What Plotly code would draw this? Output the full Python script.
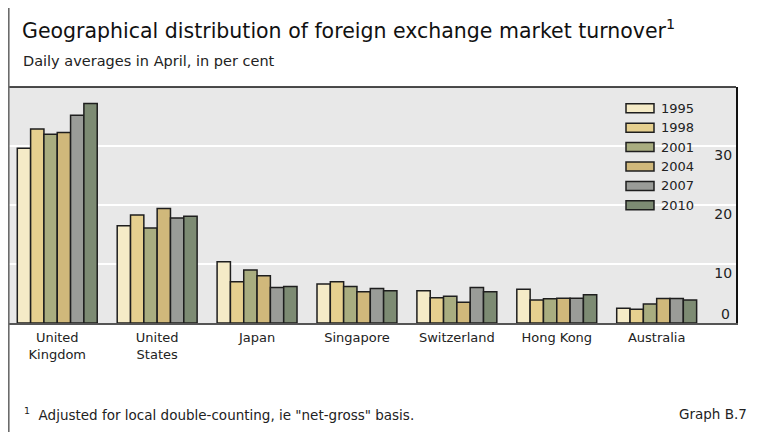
import plotly.graph_objects as go

# Countries (x categories) and turnover shares by survey year, in per cent
countries = ['United<br>Kingdom', 'United<br>States', 'Japan', 'Singapore',
             'Switzerland', 'Hong Kong', 'Australia']
years = ['1995', '1998', '2001', '2004', '2007', '2010']
share_1995 = [29.6, 16.5, 10.4, 6.6, 5.45, 5.7, 2.5]
share_1998 = [32.9, 18.3, 7.0, 7.0, 4.3, 3.9, 2.35]
share_2001 = [32.0, 16.1, 9.0, 6.2, 4.55, 4.1, 3.2]
share_2004 = [32.3, 19.4, 8.0, 5.3, 3.5, 4.2, 4.15]
share_2007 = [35.2, 17.8, 6.0, 5.85, 6.0, 4.2, 4.15]
share_2010 = [37.2, 18.1, 6.2, 5.45, 5.3, 4.8, 3.9]
y_ticks = [0, 10, 20, 30]

shares = [share_1995, share_1998, share_2001, share_2004, share_2007, share_2010]
colors = ['#F5EBC7', '#E6D08F', '#A9AD80', '#D0B87B', '#9A9C98', '#7D8B73']

FONT = 'DejaVu Sans, Arial, sans-serif'
# the page body adds an 8px margin, so the figure is drawn 8px smaller and
# every reference pixel position is shifted by OFF
OFF = 8
W, H = 773 - OFF, 432 - OFF
L, R, T, B = 9 - OFF, 37, 87 - OFF, 109  # plot area 9..736 x 87..323 on screen

fig = go.Figure()
for yr, vals, col in zip(years, shares, colors):
    fig.add_trace(go.Bar(name=yr, x=countries, y=vals,
                         marker=dict(color=col, line=dict(color='#1e1e1e', width=1.5)),
                         showlegend=False))

fig.update_layout(
    width=W, height=H,
    margin=dict(l=L, r=R, t=T, b=B, pad=0),
    paper_bgcolor='white', plot_bgcolor='#E8E8E8',
    barmode='group', bargap=0.2, bargroupgap=0,
    font=dict(family=FONT, color='#222'),
)
fig.update_xaxes(range=[-0.483, 6.794], showline=True, linecolor='#555', linewidth=1.5,
                 showgrid=False, ticks='', ticklabelstandoff=2,
                 tickfont=dict(size=13, color='#222'))
fig.update_yaxes(range=[0, 40], side='right', tickvals=y_ticks,
                 showgrid=True, gridcolor='white', gridwidth=1.5, zeroline=False,
                 showline=True, linecolor='#111', linewidth=1.5, ticks='',
                 ticklabelposition='inside', ticklabelstandoff=4, ticklabelshift=9,
                 tickfont=dict(size=14, color='#222'))

# plotly drops the inside "0" label at the very bottom, so put it back
fig.add_annotation(xref='paper', yref='y', x=1, y=y_ticks[0], text=str(y_ticks[0]),
                   showarrow=False, xanchor='right', yanchor='middle',
                   xshift=-4, yshift=9, font=dict(size=14, color='#222'))

# plot-area top border
fig.add_shape(type='line', xref='paper', yref='paper', x0=0, x1=1, y0=1, y1=1,
              line=dict(color='#111', width=1.5))

# helpers: screen pixel -> paper units
pw, ph = W - L - R, H - T - B
def px_x(p): return (p - OFF - L) / pw
def px_y(p): return (H - B - (p - OFF)) / ph

# outer frame line on the left
fig.add_shape(type='line', xref='paper', yref='paper', x0=px_x(8.6), x1=px_x(8.6),
              y0=px_y(OFF), y1=px_y(432), line=dict(color='#6b6b6b', width=2))

# legend drawn as boxes + labels
for i, (yr, col) in enumerate(zip(years, colors)):
    yc = 108.3 + i * 19.4
    fig.add_shape(type='rect', xref='paper', yref='paper',
                  x0=px_x(626), x1=px_x(654), y0=px_y(yc - 4.5), y1=px_y(yc + 4.5),
                  fillcolor=col, line=dict(color='#1e1e1e', width=1.5))
    fig.add_annotation(xref='paper', yref='paper', x=px_x(659), y=px_y(yc),
                       text=yr, showarrow=False, xanchor='left', yanchor='middle',
                       font=dict(size=13, color='#222'))

# titles and notes
fig.add_annotation(xref='paper', yref='paper', x=px_x(20), y=px_y(29),
                   text='Geographical distribution of foreign exchange market turnover<sup>1</sup>',
                   showarrow=False, xanchor='left', yanchor='middle',
                   font=dict(size=20.5, color='#111'))
fig.add_annotation(xref='paper', yref='paper', x=px_x(21), y=px_y(61),
                   text='Daily averages in April, in per cent',
                   showarrow=False, xanchor='left', yanchor='middle',
                   font=dict(size=14.5, color='#222'))
fig.add_annotation(xref='paper', yref='paper', x=px_x(22), y=px_y(414),
                   text='<sup>1</sup>  Adjusted for local double-counting, ie "net-gross" basis.',
                   showarrow=False, xanchor='left', yanchor='middle',
                   font=dict(size=13.5, color='#222'))
fig.add_annotation(xref='paper', yref='paper', x=px_x(749), y=px_y(414),
                   text='Graph B.7', showarrow=False, xanchor='right', yanchor='middle',
                   font=dict(size=13.5, color='#222'))

fig.write_html("out.html")
